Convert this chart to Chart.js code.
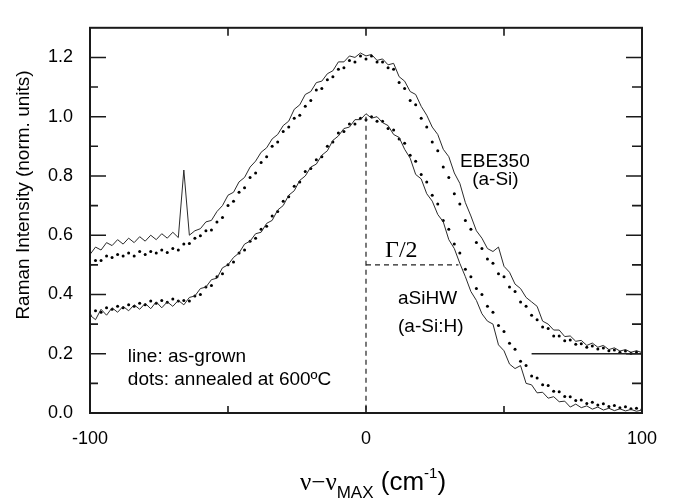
<!DOCTYPE html>
<html>
<head>
<meta charset="utf-8">
<title>Raman</title>
<script src="https://cdn.jsdelivr.net/npm/chart.js@4.4.1/dist/chart.umd.min.js"></script>
<style>
    html, body { margin: 0; padding: 0; background: #fff; }
    #wrap { position: relative; width: 674px; height: 504px; }
</style>
</head>
<body>
<div id="wrap"><canvas id="ramanChart" width="674" height="504"></canvas></div>
<script>
// Raman-Spektren (normiert), Verschiebung relativ zum Maximum, Schritt 2 cm-1

const shift = [
    -100, -98, -96, -94, -92, -90, -88, -86, -84, -82,
    -80, -78, -76, -74, -72, -70, -68, -66, -64, -62,
    -60, -58, -56, -54, -52, -50, -48, -46, -44, -42,
    -40, -38, -36, -34, -32, -30, -28, -26, -24, -22,
    -20, -18, -16, -14, -12, -10, -8, -6, -4, -2,
    0, 2, 4, 6, 8, 10, 12, 14, 16, 18,
    20, 22, 24, 26, 28, 30, 32, 34, 36, 38,
    40, 42, 44, 46, 48, 50, 52, 54, 56, 58,
    60, 62, 64, 66, 68, 70, 72, 74, 76, 78,
    80, 82, 84, 86, 88, 90, 92, 94, 96, 98,
    100
];

// EBE350 (a-Si), as-grown (Linie)
const ebeLine = [
    0.535, 0.56, 0.55, 0.575, 0.565, 0.585, 0.57, 0.59, 0.575, 0.595,
    0.58, 0.6, 0.585, 0.605, 0.59, 0.61, 0.592, 0.82, 0.6, 0.615,
    0.622, 0.645, 0.65, 0.68, 0.7, 0.735, 0.745, 0.78, 0.795, 0.83,
    0.85, 0.88, 0.895, 0.925, 0.94, 0.97, 0.985, 1.025, 1.04, 1.075,
    1.085, 1.115, 1.12, 1.145, 1.155, 1.185, 1.185, 1.205, 1.2, 1.215,
    1.205, 1.21, 1.19, 1.195, 1.175, 1.18, 1.135, 1.12, 1.085, 1.075,
    1.035, 1.005, 0.965, 0.94, 0.89, 0.865, 0.81, 0.775, 0.71, 0.665,
    0.615, 0.59, 0.555, 0.545, 0.56, 0.495, 0.475, 0.435, 0.42, 0.39,
    0.375, 0.36, 0.31, 0.3, 0.28, 0.28, 0.258, 0.26, 0.242, 0.245,
    0.228, 0.236, 0.222, 0.228, 0.214, 0.22, 0.209, 0.214, 0.205, 0.21,
    0.204
];

// EBE350, getempert 600 °C (Punkte)
const ebeDots = [
    0.5, 0.515, 0.515, 0.53, 0.525, 0.535, 0.53, 0.54, 0.53, 0.545,
    0.535, 0.545, 0.54, 0.55, 0.542, 0.555, 0.55, 0.57, 0.572, 0.59,
    0.598, 0.615, 0.618, 0.645, 0.66, 0.7, 0.715, 0.745, 0.76, 0.795,
    0.81, 0.845, 0.865, 0.9, 0.915, 0.95, 0.965, 0.995, 1.005, 1.035,
    1.055, 1.09, 1.095, 1.125, 1.135, 1.16, 1.165, 1.19, 1.185, 1.205,
    1.195, 1.205, 1.185, 1.185, 1.165, 1.16, 1.115, 1.095, 1.055, 1.04,
    0.995, 0.965, 0.915, 0.885, 0.83, 0.795, 0.74, 0.705, 0.65, 0.62,
    0.575, 0.555, 0.52, 0.505, 0.47, 0.46, 0.425, 0.41, 0.375, 0.36,
    0.33, 0.315, 0.29, 0.285, 0.26, 0.26, 0.244, 0.246, 0.232, 0.234,
    0.222, 0.226, 0.216, 0.219, 0.21, 0.213, 0.205, 0.209, 0.202, 0.206,
    0.201
];

// aSiHW (a-Si:H), as-grown (Linie)
const hwLine = [
    0.33, 0.315, 0.35, 0.33, 0.355, 0.34, 0.36, 0.345, 0.365, 0.35,
    0.37, 0.352, 0.375, 0.355, 0.375, 0.36, 0.38, 0.365, 0.39, 0.395,
    0.42, 0.425, 0.45, 0.455, 0.49, 0.5, 0.525, 0.54, 0.57, 0.58,
    0.605, 0.61, 0.64, 0.65, 0.685, 0.7, 0.735, 0.75, 0.785, 0.8,
    0.83, 0.84, 0.87, 0.885, 0.92, 0.935, 0.96, 0.965, 0.99, 0.99,
    1.01, 0.995, 1.0, 0.98, 0.97, 0.94, 0.93, 0.89, 0.86, 0.805,
    0.79, 0.74, 0.715, 0.67, 0.645, 0.585, 0.555, 0.505, 0.46, 0.41,
    0.38, 0.335, 0.31, 0.3, 0.23, 0.21, 0.165, 0.15, 0.16, 0.1,
    0.095, 0.068, 0.07, 0.05, 0.055, 0.038, 0.04, 0.02, 0.03, 0.018,
    0.024, 0.013, 0.02, 0.01, 0.016, 0.008, 0.014, 0.007, 0.012, 0.006,
    0.01
];

// aSiHW, getempert 600 °C (Punkte)
const hwDots = [
    0.33, 0.345, 0.34, 0.355, 0.35, 0.36, 0.355, 0.365, 0.36, 0.37,
    0.365, 0.378, 0.37, 0.38, 0.374, 0.385, 0.378, 0.38, 0.378, 0.395,
    0.4, 0.425, 0.43, 0.46, 0.47, 0.5, 0.51, 0.54, 0.55, 0.58,
    0.59, 0.62, 0.63, 0.665, 0.68, 0.715, 0.73, 0.765, 0.78, 0.815,
    0.825, 0.855, 0.865, 0.9, 0.915, 0.945, 0.95, 0.975, 0.975, 0.995,
    0.99, 1.0, 0.985, 0.985, 0.96, 0.955, 0.925, 0.91, 0.87, 0.85,
    0.805, 0.78, 0.735, 0.705, 0.65, 0.62, 0.57, 0.54, 0.485, 0.46,
    0.42, 0.4, 0.36, 0.34, 0.295, 0.275, 0.235, 0.215, 0.175, 0.16,
    0.125, 0.118, 0.095, 0.093, 0.073, 0.072, 0.056, 0.055, 0.042, 0.044,
    0.032, 0.036, 0.027, 0.031, 0.022, 0.025, 0.018, 0.021, 0.014, 0.016,
    0.012
];

const xTickLabels = [-100, 0, 100];
const xTickMarks = [-50, 0, 50];
const yTickLabels = [0.0, 0.2, 0.4, 0.6, 0.8, 1.0, 1.2];
const yMinorTicks = [0.1, 0.3, 0.5, 0.7, 0.9, 1.1];

const SANS = '"Liberation Sans", Arial, Helvetica, sans-serif';
const SERIF = '"Liberation Serif", "Times New Roman", serif';

const toPoints = (ys) => shift.map((x, i) => ({ x, y: ys[i] }));

const lineStyle = {
    showLine: true,
    borderColor: '#2b2b2b',
    borderWidth: 1,
    pointRadius: 0,
    tension: 0,
    fill: false
};

const dotStyle = {
    showLine: false,
    pointRadius: 1.5,
    pointBackgroundColor: '#000',
    pointBorderWidth: 0
};

// Rahmen, Ticks nach innen, Hilfslinien und Beschriftungen
const frameAndNotes = {
    id: 'frameAndNotes',
    afterDatasetsDraw(chart) {
        const { ctx, chartArea: a, scales: { x, y } } = chart;
        ctx.save();

        ctx.strokeStyle = '#1a1a1a';
        ctx.lineWidth = 2;
        ctx.strokeRect(a.left, a.top, a.right - a.left, a.bottom - a.top);

        ctx.lineWidth = 1.6;
        ctx.beginPath();
        yTickLabels.forEach(v => {
            const py = y.getPixelForValue(v);
            ctx.moveTo(a.left, py); ctx.lineTo(a.left + 16, py);
            ctx.moveTo(a.right, py); ctx.lineTo(a.right - 16, py);
        });
        yMinorTicks.forEach(v => {
            const py = y.getPixelForValue(v);
            ctx.moveTo(a.left, py); ctx.lineTo(a.left + 8, py);
            ctx.moveTo(a.right, py); ctx.lineTo(a.right - 10, py);
        });
        xTickMarks.forEach(v => {
            const px = x.getPixelForValue(v);
            ctx.moveTo(px, a.bottom); ctx.lineTo(px, a.bottom - 7);
            ctx.moveTo(px, a.top); ctx.lineTo(px, a.top + 8);
        });
        ctx.stroke();

        // Maximum und halbe Breite
        ctx.lineWidth = 1.2;
        ctx.strokeStyle = '#222';
        ctx.setLineDash([5, 4]);
        ctx.beginPath();
        ctx.moveTo(x.getPixelForValue(0), y.getPixelForValue(1.0));
        ctx.lineTo(x.getPixelForValue(0), a.bottom);
        ctx.moveTo(x.getPixelForValue(0), y.getPixelForValue(0.5));
        ctx.lineTo(x.getPixelForValue(33.5), y.getPixelForValue(0.5));
        ctx.stroke();
        ctx.setLineDash([]);

        // Basislinie der verschobenen EBE350-Kurven
        ctx.lineWidth = 1.6;
        ctx.beginPath();
        ctx.moveTo(x.getPixelForValue(60), y.getPixelForValue(0.2));
        ctx.lineTo(a.right, y.getPixelForValue(0.2));
        ctx.stroke();

        ctx.fillStyle = '#000';
        ctx.textBaseline = 'alphabetic';
        ctx.font = '19px ' + SANS;
        ctx.textAlign = 'center';
        ctx.fillText('EBE350', x.getPixelForValue(46.7), y.getPixelForValue(0.831));
        ctx.fillText('(a-Si)', x.getPixelForValue(46.9), y.getPixelForValue(0.768));
        ctx.textAlign = 'left';
        ctx.fillText('aSiHW', x.getPixelForValue(11.6), y.getPixelForValue(0.368));
        ctx.fillText('(a-Si:H)', x.getPixelForValue(11.6), y.getPixelForValue(0.272));
        ctx.fillText('line: as-grown', x.getPixelForValue(-86.3), y.getPixelForValue(0.173));
        ctx.fillText('dots: annealed at 600ºC', x.getPixelForValue(-86.3), y.getPixelForValue(0.095));

        ctx.font = '24px ' + SERIF;
        ctx.fillText('Γ/2', x.getPixelForValue(6.9), y.getPixelForValue(0.528));

        // Achsentitel y
        ctx.save();
        ctx.translate(24, 195);
        ctx.rotate(-Math.PI / 2);
        ctx.textAlign = 'center';
        ctx.textBaseline = 'middle';
        ctx.font = '19px ' + SANS;
        ctx.fillText('Raman Intensity (norm. units)', 0, 0);
        ctx.restore();

        // Achsentitel x mit Index und Exponent
        let cx = 300;
        const base = 490;
        const part = (text, font, dy) => {
            ctx.font = font;
            ctx.fillText(text, cx, base + dy);
            cx += ctx.measureText(text).width;
        };
        ctx.textAlign = 'left';
        part('ν−ν', '25px ' + SERIF, 0);
        part('MAX', '17px ' + SANS, 8);
        part(' (cm', '26px ' + SANS, 0);
        part('-1', '15px ' + SANS, -12);
        part(')', '26px ' + SANS, 0);

        ctx.restore();
    }
};

new Chart(document.getElementById('ramanChart').getContext('2d'), {
    type: 'scatter',
    data: {
        datasets: [
            { label: 'EBE350 as-grown', data: toPoints(ebeLine), ...lineStyle },
            { label: 'EBE350 annealed', data: toPoints(ebeDots), ...dotStyle },
            { label: 'aSiHW as-grown', data: toPoints(hwLine), ...lineStyle },
            { label: 'aSiHW annealed', data: toPoints(hwDots), ...dotStyle }
        ]
    },
    options: {
        responsive: false,
        animation: false,
        layout: { padding: { top: 7, right: 32, left: 0, bottom: 0 } },
        plugins: {
            legend: { display: false },
            tooltip: { enabled: false }
        },
        scales: {
            x: {
                type: 'linear',
                min: -100,
                max: 100,
                afterBuildTicks: (axis) => { axis.ticks = xTickLabels.map(v => ({ value: v })); },
                afterFit: (axis) => { axis.height = 91; },
                ticks: {
                    color: '#000',
                    font: { family: SANS, size: 18 },
                    padding: 15,
                    maxRotation: 0,
                    autoSkip: false,
                    callback: (v) => String(v)
                },
                grid: { display: false, drawTicks: false },
                border: { display: false }
            },
            y: {
                min: 0,
                max: 1.3,
                afterBuildTicks: (axis) => { axis.ticks = yTickLabels.map(v => ({ value: v })); },
                afterFit: (axis) => { axis.width = 90; },
                ticks: {
                    color: '#000',
                    font: { family: SANS, size: 18 },
                    padding: 17,
                    autoSkip: false,
                    callback: (v) => Number(v).toFixed(1)
                },
                grid: { display: false, drawTicks: false },
                border: { display: false }
            }
        }
    },
    plugins: [frameAndNotes]
});
</script>
</body>
</html>
